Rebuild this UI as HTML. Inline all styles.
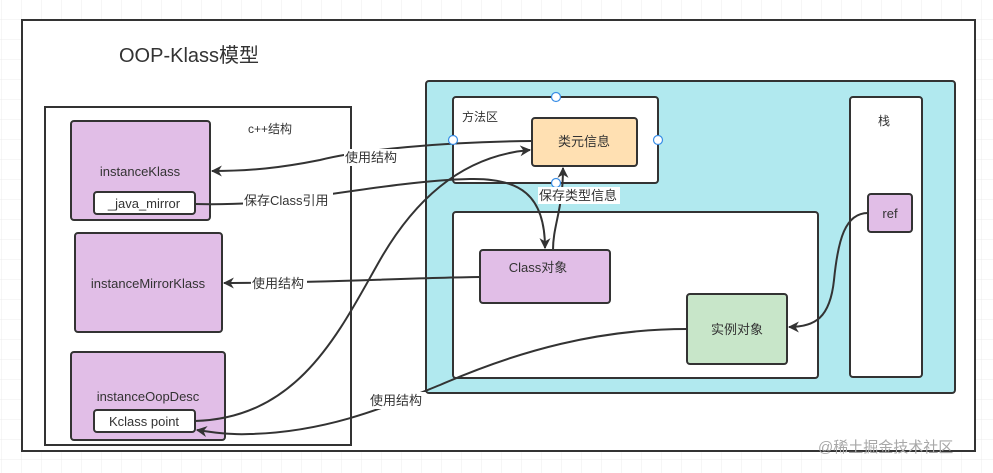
<!DOCTYPE html>
<html><head><meta charset="utf-8"><style>
html,body{margin:0;padding:0;width:993px;height:473px;overflow:hidden;background:#fff;}
svg{display:block;}
text{font-family:"Liberation Sans","Noto Sans CJK SC",sans-serif;fill:#333;}
</style></head><body>
<svg width="993" height="473" viewBox="0 0 993 473" xmlns="http://www.w3.org/2000/svg">
<defs>
<pattern id="g" width="20" height="20" patternUnits="userSpaceOnUse" x="2" y="0">
<path d="M20 0V20M0 20H20" fill="none" stroke="#ececec" stroke-width="1"/>
</pattern>
<marker id="a" viewBox="0 0 10 10" refX="9" refY="5" markerWidth="11" markerHeight="11" markerUnits="userSpaceOnUse" orient="auto">
<path d="M0,0 L10,5 L0,10 L3,5 z" fill="#333"/>
</marker>
</defs>
<rect width="993" height="473" fill="url(#g)"/>
<rect x="22" y="20" width="953" height="431" fill="#fff" stroke="#333" stroke-width="2"/>
<text x="119" y="62" font-size="20">OOP-Klass模型</text>

<rect x="45" y="107" width="306" height="338" fill="#fff" stroke="#333" stroke-width="2"/>
<text x="248" y="133" font-size="12">c++结构</text>
<rect x="71" y="121" width="139" height="99" rx="3" fill="#e1bee7" stroke="#333" stroke-width="2"/>
<text x="140" y="176" font-size="13" text-anchor="middle">instanceKlass</text>
<rect x="94" y="192" width="101" height="22" rx="3" fill="#fff" stroke="#333" stroke-width="2"/>
<text x="144" y="208" font-size="13" text-anchor="middle">_java_mirror</text>
<rect x="75" y="233" width="147" height="99" rx="3" fill="#e1bee7" stroke="#333" stroke-width="2"/>
<text x="148" y="288" font-size="13" text-anchor="middle">instanceMirrorKlass</text>
<rect x="71" y="352" width="154" height="88" rx="3" fill="#e1bee7" stroke="#333" stroke-width="2"/>
<text x="148" y="401" font-size="13" text-anchor="middle">instanceOopDesc</text>
<rect x="94" y="410" width="101" height="22" rx="3" fill="#fff" stroke="#333" stroke-width="2"/>
<text x="144" y="426" font-size="13" text-anchor="middle">Kclass point</text>

<rect x="426" y="81" width="529" height="312" rx="3" fill="#b1e9ef" stroke="#333" stroke-width="2"/>
<rect x="453" y="97" width="205" height="86" rx="3" fill="#fff" stroke="#333" stroke-width="2"/>
<text x="462" y="121" font-size="12">方法区</text>
<rect x="532" y="118" width="105" height="48" rx="3" fill="#ffe0b2" stroke="#333" stroke-width="2"/>
<text x="584" y="146" font-size="13" text-anchor="middle">类元信息</text>
<rect x="850" y="97" width="72" height="280" rx="3" fill="#fff" stroke="#333" stroke-width="2"/>
<text x="884" y="125" font-size="12" text-anchor="middle">栈</text>
<rect x="868" y="194" width="44" height="38" rx="3" fill="#e1bee7" stroke="#333" stroke-width="2"/>
<text x="890" y="218" font-size="13" text-anchor="middle">ref</text>
<rect x="453" y="212" width="365" height="166" rx="3" fill="#fff" stroke="#333" stroke-width="2"/>
<rect x="480" y="250" width="130" height="53" rx="3" fill="#e1bee7" stroke="#333" stroke-width="2"/>
<text x="538" y="272" font-size="13" text-anchor="middle">Class对象</text>
<rect x="687" y="294" width="100" height="70" rx="3" fill="#c8e6c9" stroke="#333" stroke-width="2"/>
<text x="737" y="334" font-size="13" text-anchor="middle">实例对象</text>

<g fill="none" stroke="#333" stroke-width="2">
<path d="M532,141 C440,142 360,150 320,160 C280,168 250,171 212,171" marker-end="url(#a)"/>
<path d="M195,204 C230,205 260,203 290,200 C360,190 420,180 470,179 C520,178 545,195 545,248" marker-end="url(#a)"/>
<path d="M553,250 C553,225 563,210 563,168" marker-end="url(#a)"/>
<path d="M480,277 C400,278 320,283 224,283" marker-end="url(#a)"/>
<path d="M195,421 C300,418 340,330 380,260 C420,190 470,155 530,150" marker-end="url(#a)"/>
<path d="M687,329 C600,329 520,350 440,385 C390,405 330,432 250,434 C230,435 210,432 197,430" marker-end="url(#a)"/>
<path d="M868,213 C845,213 838,240 834,280 C830,318 815,327 789,327" marker-end="url(#a)"/>
</g>

<g fill="#fff" stroke="#3a8ee6" stroke-width="1.2">
<circle cx="556" cy="97" r="4.5"/><circle cx="453" cy="140" r="4.5"/>
<circle cx="658" cy="140" r="4.5"/><circle cx="556" cy="183" r="4.5"/>
</g>

<g font-size="13">
<rect x="344" y="149" width="56" height="17" fill="#fff"/><text x="345" y="162">使用结构</text>
<rect x="243" y="192" width="90" height="17" fill="#fff"/><text x="244" y="205">保存Class引用</text>
<rect x="251" y="275" width="56" height="17" fill="#fff"/><text x="252" y="288">使用结构</text>
<rect x="369" y="392" width="56" height="17" fill="#fff"/><text x="370" y="405">使用结构</text>
<rect x="538" y="187" width="82" height="17" fill="#fff"/><text x="539" y="200">保存类型信息</text>
</g>
<text x="818" y="452" font-size="15" style="fill:#a8a8a8">@稀土掘金技术社区</text>
</svg>
</body></html>
